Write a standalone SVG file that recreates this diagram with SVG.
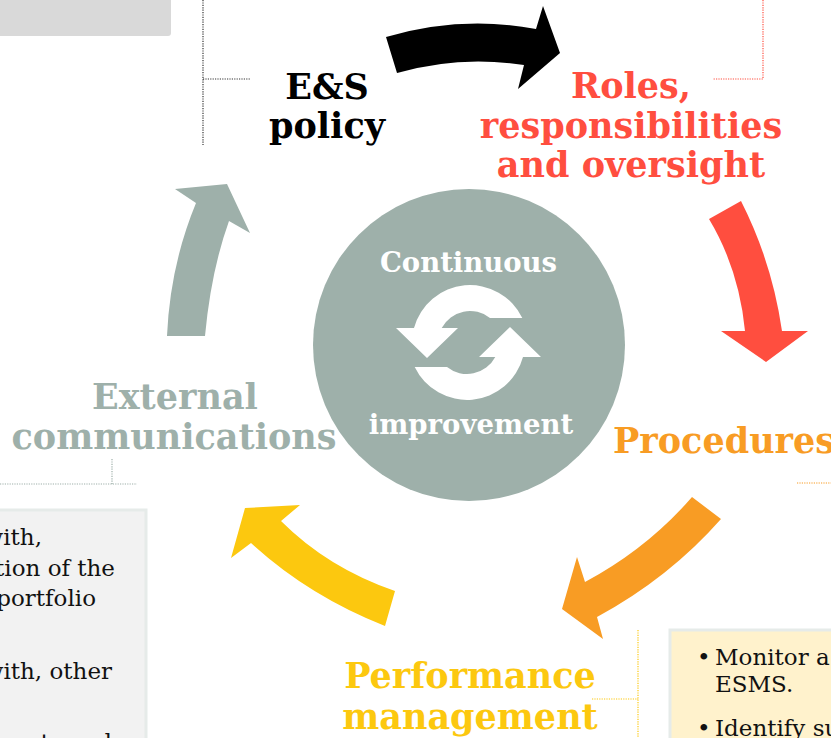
<svg xmlns="http://www.w3.org/2000/svg" width="831" height="738" viewBox="0 0 831 738">
<style>
.title{font-family:"DejaVu Serif","Liberation Serif",serif;font-weight:bold;font-size:35px;text-anchor:middle}
.ctext{font-family:"DejaVu Serif","Liberation Serif",serif;font-weight:bold;font-size:27.5px;fill:#fff;text-anchor:middle}
.body{font-family:"DejaVu Serif","Liberation Serif",serif;font-size:23px;fill:#111}
.dot{fill:none;stroke-width:1.2;stroke-dasharray:1.2 1.2}
</style>
<rect x="-5" y="-5" width="176" height="41" rx="3" fill="#D9D9D9"/>

<g id="connectors">
<path id="arrow-policy-roles" fill="#000" d="M386,37 Q461,15 536,29 L543,6 L560,53 L518,89 L524,65 Q459.5,55 397,73 Z"/>
<path id="arrow-roles-procedures" fill="#FF4E3F" d="M709,219 L741,201 Q772,262 782,331 L808,331 L766,362 L721,331 L745,331 Q739,269 709,219 Z"/>
<path id="arrow-procedures-performance" fill="#F89C24" d="M692,497 L721,519 Q669,578 597,617 L603,639 L562,609 L577,557 L585,582 Q647.5,548.5 692,497 Z"/>
<path id="arrow-performance-external" fill="#FCC80F" d="M395,591 L385,626 Q308,595.5 251,543 L231,558 L245,508 L300,505 L281,521 Q328,568 395,591 Z"/>
<path id="arrow-external-policy" fill="#9EB0AA" d="M167,336 L205,336 Q211,271 229,221 L250,233 L227,184 L175,189 L196,203 Q170,266 167,336 Z"/>
</g>

<g id="n-center">
<circle cx="469" cy="345" r="156" fill="#9EB0AA"/>
<text class="ctext" x="468.5" y="272">Continuous</text>
<text class="ctext" x="471" y="434">improvement</text>
<g fill="#fff">
<path d="M522.3,318 A58,58 0 0,0 414,328 L396,328 L427,358 L458,328 L441.7,328 A32,32 0 0,1 490,318 Z"/>
<path transform="rotate(180 468.5 342.5)" d="M522.3,318 A58,58 0 0,0 414,328 L396,328 L427,358 L458,328 L441.7,328 A32,32 0 0,1 490,318 Z"/>
</g>
</g>

<g id="n-policy">
<path class="dot" stroke="#333" d="M203,0 V145 M203,79 H250"/>
<text class="title" fill="#000" x="327" y="99">E&amp;S</text>
<text class="title" fill="#000" x="327" y="138">policy</text>
</g>

<g id="n-roles">
<path class="dot" stroke="#FF4E3F" d="M763,0 V79 H713"/>
<text class="title" fill="#FF4E3F" x="631" y="98">Roles,</text>
<text class="title" fill="#FF4E3F" x="631" y="138">responsibilities</text>
<text class="title" fill="#FF4E3F" x="631" y="177">and oversight</text>
</g>

<g id="n-procedures">
<path class="dot" stroke="#F89C24" d="M797,483 H831"/>
<text class="title" fill="#F89C24" x="613" y="453" style="text-anchor:start">Procedures</text>
</g>

<g id="n-performance">
<path class="dot" stroke="#FCC80F" d="M638,630 V738 M592,699 H638"/>
<text class="title" fill="#FCC80F" x="470" y="688">Performance</text>
<text class="title" fill="#FCC80F" x="470" y="729">management</text>
<g id="performance-box">
<rect x="670" y="630" width="200" height="150" fill="#FFF2CC" stroke="#E6EBE9" stroke-width="3"/>
<text class="body" x="697" y="665">•</text>
<text class="body" x="715" y="665">Monitor a</text>
<text class="body" x="715" y="692">ESMS.</text>
<text class="body" x="697" y="736">•</text>
<text class="body" x="715" y="736">Identify su</text>
</g>
</g>

<g id="n-external">
<path class="dot" stroke="#9EB0AA" d="M112,459 V484 M0,484 H137"/>
<text class="title" fill="#9EB0AA" x="175" y="409">External</text>
<text class="title" fill="#9EB0AA" x="174" y="449">communications</text>
<g id="external-box">
<rect x="-10" y="510" width="156" height="240" fill="#F2F2F2" stroke="#E6EBE9" stroke-width="3"/>
<g style="text-anchor:end">
<text class="body" x="42" y="545">with,</text>
<text class="body" x="115" y="576">tion of the</text>
<text class="body" x="96" y="606">portfolio</text>
<text class="body" x="112" y="679">with, other</text>
<text class="body" x="112" y="750">ents and</text>
</g>
</g>
</g>
</svg>
